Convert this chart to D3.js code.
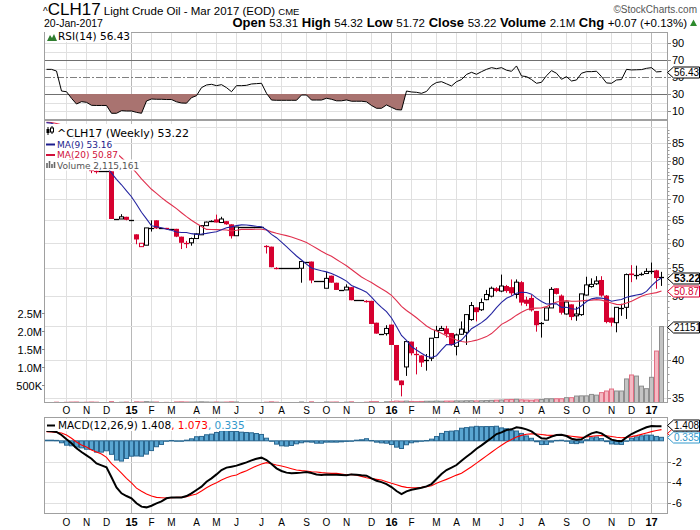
<!DOCTYPE html>
<html>
<head>
<meta charset="utf-8">
<script src="https://cdn.jsdelivr.net/npm/d3@7/dist/d3.min.js"></script>
<style>
  body { margin: 0; background: #fff; }
  svg { display: block; }
  text { font-family: "Liberation Sans", Arial, sans-serif; }
  .lg { font-family: "DejaVu Sans", Verdana, sans-serif; }
</style>
</head>
<body>
<svg width="700" height="530"></svg>
<script>
// weekly bars, Mon 8-Sep-2014 .. Mon 16-Jan-2017 (124 weeks)
// closes of the weeks before the window, only used to warm up the moving averages
var priorCloses = [91.0, 91.2, 91.5, 91.8, 92.0, 92.0, 91.8, 91.6, 91.5, 91.4,
                   91.3, 91.5, 91.6, 91.5, 91.5, 91.5, 91.5, 91.5, 91.5];

var opens = [90, 90, 86, 84, 83, 81.5, 79.5, 78.6, 78.8, 77.6,
  77.3, 77.1, 77.1, 77.1, 65.3, 65.3, 65.8, 65.1, 61.9, 59.3,
  59.6, 63.3, 65.0, 63.2, 63.3, 63.1, 63.1, 61.4, 60.2, 60.1,
  61.0, 61.8, 63.8, 64.6, 65.2, 64.5, 64.8, 64.1, 61.6, 63.5,
  63.5, 63.5, 63.5, 63.5, 59.6, 59.3, 55.2, 55.0, 55.0, 55.0,
  55.0, 55.0, 56.3, 56.3, 52.7, 52.7, 51.3, 53.6, 52.3, 51.0,
  51.0, 51.5, 49.2, 49.2, 49.2, 49.1, 45.5, 43.8, 43.8, 45.2,
  42.1, 37.2, 39.0, 42.6, 40.9, 40.6, 39.8, 40.2, 43.2, 44.3,
  44.6, 43.9, 41.9, 43.7, 44.0, 46.0, 48.0, 47.6, 49.3, 49.9,
  51.3, 50.8, 51.7, 51.5, 50.2, 52.4, 49.3, 49.6, 47.4, 45.3,
  45.9, 47.9, 51.3, 50.0, 46.9, 48.5, 46.6, 46.8, 50.1, 51.6,
  52.1, 52.8, 50.0, 46.3, 45.5, 47.9, 48.0, 54.0, 53.7, 53.8,
  54.0, 54.4, 54.6, 53.31];

var highs = [90, 90, 86, 84, 83, 81.5, 79.5, 79.3, 78.8, 77.6,
  77.3, 77.1, 77.1, 77.1, 65.3, 66.4, 65.8, 65.1, 61.9, 60.0,
  63.3, 65.0, 65.0, 63.2, 63.3, 63.1, 63.1, 61.4, 60.5, 61.2,
  62.1, 63.8, 64.7, 65.0, 66.3, 65.8, 64.8, 64.1, 63.5, 63.5,
  63.5, 63.5, 63.5, 63.5, 59.6, 59.3, 55.2, 55.0, 55.0, 55.0,
  55.0, 56.3, 56.3, 56.3, 52.7, 52.7, 54.3, 53.6, 52.3, 51.0,
  52.0, 51.5, 49.2, 49.2, 49.2, 49.1, 45.5, 43.8, 45.1, 45.2,
  42.1, 37.2, 42.6, 42.6, 41.8, 40.6, 40.8, 43.1, 45.0, 45.0,
  45.0, 43.9, 43.8, 45.7, 46.8, 48.9, 48.0, 49.5, 51.0, 51.6,
  51.5, 53.8, 51.9, 52.9, 52.9, 52.6, 49.8, 50.1, 47.4, 45.6,
  47.9, 51.5, 51.3, 50.2, 48.9, 48.5, 48.1, 50.3, 53.4, 53.1,
  53.5, 53.5, 50.1, 46.3, 48.0, 48.6, 54.0, 55.6, 55.5, 54.2,
  55.0, 56.1, 54.7, 54.32];

var lows = [90, 90, 83.5, 84, 81.8, 79.8, 78.2, 78.6, 78.0, 76.6,
  76.5, 77.1, 77.1, 65.3, 65.3, 65.3, 65.0, 65.1, 59.8, 59.3,
  59.6, 62.5, 63.1, 63.2, 63.0, 63.1, 61.3, 58.8, 59.0, 59.5,
  61.0, 61.8, 63.8, 64.6, 64.5, 64.5, 64.0, 61.0, 61.6, 63.5,
  63.5, 63.5, 63.5, 63.5, 57.9, 55.2, 54.8, 55.0, 55.0, 55.0,
  55.0, 52.3, 56.3, 52.2, 52.7, 52.7, 51.3, 52.3, 51.0, 51.0,
  51.0, 49.2, 49.2, 49.2, 48.8, 45.3, 43.8, 43.8, 43.5, 42.1,
  37.2, 35.2, 37.8, 40.6, 38.0, 39.0, 38.5, 39.8, 43.2, 44.2,
  43.2, 42.0, 40.6, 43.6, 42.1, 45.8, 45.7, 47.4, 49.2, 49.7,
  50.6, 50.6, 50.5, 50.0, 49.5, 48.3, 48.2, 47.3, 44.1, 43.2,
  45.9, 47.9, 50.2, 46.8, 46.8, 45.9, 45.8, 46.6, 50.0, 51.4,
  51.9, 49.8, 45.4, 44.9, 44.0, 46.6, 46.1, 52.4, 52.9, 53.6,
  53.9, 53.9, 51.2, 51.72];

var closes = [90, 90, 84, 84, 82, 80, 78.5, 79, 78.2, 77.2,
  77.1, 77.1, 77.1, 65.3, 65.3, 65.8, 65.1, 65.1, 60.8, 60.0,
  63.3, 63.4, 63.2, 63.2, 63.1, 63.1, 61.4, 60.1, 59.9, 61.0,
  62.0, 63.8, 64.6, 64.9, 64.5, 65.3, 64.1, 61.5, 63.5, 63.5,
  63.5, 63.5, 63.5, 63.5, 59.4, 55.2, 55.0, 55.0, 55.0, 55.0,
  55.0, 56.3, 56.3, 52.7, 52.7, 52.7, 53.1, 52.3, 51.0, 51.0,
  51.5, 49.2, 49.2, 49.2, 49.0, 45.3, 43.8, 43.8, 44.6, 42.1,
  37.2, 36.6, 42.6, 40.9, 40.7, 39.6, 40.0, 43.1, 44.3, 44.6,
  43.7, 42.1, 43.6, 44.5, 46.8, 48.3, 47.2, 48.8, 50.2, 51.3,
  50.8, 51.7, 50.8, 50.4, 52.4, 48.8, 48.6, 47.5, 45.1, 45.5,
  47.9, 51.1, 50.3, 47.1, 48.9, 46.4, 46.9, 50.3, 51.9, 52.0,
  52.6, 50.0, 45.6, 45.5, 48.0, 48.0, 53.8, 53.7, 53.8, 53.9,
  54.4, 54.5, 53.15, 53.22];

var volumes = [0, 0, 15000, 0, 12000, 18000, 20000, 10000, 14000, 20000,
  15000, 0, 0, 30000, 0, 12000, 18000, 0, 25000, 20000,
  30000, 20000, 20000, 0, 10000, 0, 22000, 25000, 20000, 18000,
  20000, 25000, 20000, 15000, 20000, 15000, 18000, 25000, 20000, 0,
  0, 0, 0, 0, 15000, 25000, 15000, 0, 0, 0,
  0, 20000, 0, 25000, 0, 0, 20000, 18000, 20000, 0,
  15000, 25000, 0, 0, 15000, 30000, 30000, 0, 25000, 30000,
  45000, 40000, 45000, 35000, 30000, 35000, 40000, 40000, 45000, 40000,
  45000, 45000, 50000, 50000, 55000, 55000, 50000, 55000, 60000, 65000,
  70000, 75000, 85000, 90000, 95000, 80000, 75000, 70000, 80000, 90000,
  110000, 110000, 110000, 110000, 140000, 140000, 185000, 190000, 190000, 230000,
  210000, 280000, 325000, 380000, 325000, 325000, 660000, 770000, 740000, 460000,
  390000, 705000, 1435000, 2115161];

var rsiValues = [59.0, 59.0, 57.0, 33.5, 32.7, 24.9, 18.2, 21.0, 20.2, 16.7,
  16.5, 16.5, 16.5, 7.3, 7.3, 10.4, 10.0, 10.0, 8.4, 7.3,
  21.8, 24.1, 23.8, 23.8, 23.5, 23.5, 20.8, 19.4, 19.2, 25.7,
  28.0, 37.5, 40.6, 41.4, 39.8, 41.0, 37.5, 32.7, 39.8, 39.8,
  40.2, 41.8, 42.2, 42.6, 30.8, 22.9, 22.6, 22.6, 22.6, 22.6,
  22.6, 28.8, 28.8, 22.9, 22.9, 22.9, 25.0, 23.8, 22.0, 22.0,
  23.0, 21.5, 21.5, 21.5, 20.8, 16.5, 13.2, 13.2, 17.1, 14.3,
  11.6, 11.2, 33.5, 32.4, 32.0, 30.8, 33.0, 40.0, 43.5, 44.5,
  42.0, 39.4, 44.5, 47.0, 53.0, 55.5, 53.2, 56.3, 59.0, 61.0,
  59.8, 61.0, 58.0, 56.7, 63.0, 51.2, 50.5, 47.0, 42.6, 43.8,
  51.5, 57.5, 54.4, 47.3, 50.4, 45.3, 46.5, 54.4, 56.3, 56.3,
  56.8, 50.5, 43.0, 42.6, 46.5, 47.0, 59.0, 58.3, 58.5, 58.7,
  60.2, 61.0, 56.0, 56.43];

var macdValues = [0.94, 0.91, 0.85, 0.56, 0.14, -0.24, -0.72, -1.08, -1.40, -1.72,
  -2.17, -2.36, -2.55, -3.50, -4.48, -5.05, -5.31, -5.53, -6.01, -6.33,
  -6.40, -6.24, -6.01, -5.82, -5.53, -5.44, -5.44, -5.44, -5.31, -5.05,
  -4.73, -4.41, -3.93, -3.61, -3.23, -2.81, -2.58, -2.49, -2.39, -2.23,
  -2.07, -1.88, -1.72, -1.62, -1.85, -2.23, -2.65, -2.90, -3.06, -3.13,
  -3.10, -3.06, -3.00, -3.10, -3.23, -3.29, -3.23, -3.26, -3.26, -3.29,
  -3.32, -3.23, -3.26, -3.32, -3.35, -3.61, -3.84, -3.97, -4.16, -4.45,
  -4.83, -5.12, -4.86, -4.70, -4.61, -4.51, -4.38, -4.16, -3.68, -3.19,
  -2.81, -2.58, -2.33, -1.91, -1.53, -1.17, -0.76, -0.44, -0.08, 0.27,
  0.65, 0.81, 1.04, 1.10, 1.30, 1.23, 1.10, 0.91, 0.56, 0.24,
  0.20, 0.40, 0.56, 0.59, 0.46, 0.20, 0.11, 0.14, 0.46, 0.72,
  0.85, 0.72, 0.40, 0.11, 0.01, -0.05, 0.33, 0.65, 0.88, 1.10,
  1.30, 1.42, 1.41, 1.408];

var signalValues = [0.88, 0.85, 0.81, 0.75, 0.56, 0.24, -0.11, -0.40, -0.59, -0.88,
  -1.08, -1.27, -1.59, -2.20, -2.63, -3.10, -3.61, -4.05, -4.55, -4.85,
  -5.12, -5.30, -5.44, -5.47, -5.50, -5.47, -5.44, -5.44, -5.37, -5.24,
  -5.12, -4.83, -4.51, -4.25, -4.03, -3.77, -3.55, -3.39, -3.29, -3.06,
  -2.87, -2.65, -2.42, -2.23, -2.10, -2.20, -2.33, -2.42, -2.55, -2.68,
  -2.81, -2.87, -2.90, -2.97, -3.00, -3.06, -3.10, -3.13, -3.13, -3.19,
  -3.26, -3.23, -3.32, -3.42, -3.55, -3.64, -3.71, -3.77, -3.93, -4.09,
  -4.22, -4.38, -4.48, -4.51, -4.51, -4.48, -4.41, -4.32, -4.09, -3.90,
  -3.71, -3.51, -3.30, -3.12, -2.80, -2.50, -2.15, -1.80, -1.45, -1.10,
  -0.75, -0.43, -0.12, 0.12, 0.36, 0.52, 0.63, 0.67, 0.65, 0.60,
  0.55, 0.52, 0.52, 0.53, 0.50, 0.44, 0.38, 0.33, 0.36, 0.43,
  0.48, 0.50, 0.48, 0.41, 0.34, 0.30, 0.33, 0.40, 0.50, 0.62,
  0.75, 0.88, 0.99, 1.073];

var monthLetters = ["J", "F", "M", "A", "M", "J", "J", "A", "S", "O", "N", "D"];
// 45 is hidden behind the volume tag in the reference, so it is not labelled
var priceTicks = [35, 40, 50, 55, 60, 65, 70, 75, 80, 85];
var volTicks = [500000, 1000000, 1500000, 2000000, 2500000];
var volTickLabels = ["500K", "1.0M", "1.5M", "2.0M", "2.5M"];
var rsiTicks = [10, 30, 50, 70, 90];
var macdTicks = [-6, -4, -2];

var red = "#d6002f";
var svg = d3.select("svg");
var left = 44, right = 668;
var rsiTop = 32, rsiBottom = 120, mainTop = 120, mainBottom = 403, macdTop = 417, macdBottom = 514;

var dates = d3.utcMonday.range(new Date(Date.UTC(2014, 8, 8)), new Date(Date.UTC(2017, 0, 17)));
var x = d3.scaleUtc().domain([dates[0], dates[dates.length - 1]]).range([46.5, 661.5]);
var y = d3.scaleLog().domain([35, 85]).range([398, 143.3]);
var yVol = d3.scaleLinear().domain([0, 2.5e6]).range([402.7, 312.7]);
var yRsi = d3.scaleLinear().domain([0, 100]).range([119.5, 34.5]);
var yMacd = d3.scaleLinear().domain([0, -6]).range([440.8, 503.2]);

function movingAverage(n) {
  var all = priorCloses.concat(closes);
  return closes.map(function(c, i) {
    var j = i + priorCloses.length;
    return d3.mean(all.slice(j - n + 1, j + 1));
  });
}
var ma9 = movingAverage(9), ma20 = movingAverage(20);

var bars = dates.map(function(d, i) {
  return {date: d, o: opens[i], h: highs[i], l: lows[i], c: closes[i],
    prev: i ? closes[i - 1] : priorCloses[priorCloses.length - 1],
    vol: volumes[i], rsi: rsiValues[i], macd: macdValues[i], sig: signalValues[i],
    ma9: ma9[i], ma20: ma20[i]};
});
function bx(d) { return Math.floor(x(d.date)) + 0.5; }
function col(d) { return d.c >= d.prev ? "#000" : red; }

var monthTicks = d3.utcMonth.range(new Date(Date.UTC(2014, 9, 1)), new Date(Date.UTC(2017, 1, 1)))
  .map(function(m) { return {date: d3.utcMonday.ceil(m), month: m.getUTCMonth(), year: m.getUTCFullYear()}; });

var defs = svg.append("defs");
function panel(id, top, bottom) {
  defs.append("clipPath").attr("id", id).append("rect")
    .attr("x", left).attr("y", top).attr("width", right - left).attr("height", bottom - top);
  var g = svg.append("g").attr("clip-path", "url(#" + id + ")");
  g.selectAll("line.v").data(monthTicks).enter().append("line")
    .attr("x1", bx).attr("x2", bx).attr("y1", top).attr("y2", bottom)
    .attr("stroke", function(d) { return d.month === 0 ? "#b8b8b8" : "#e0e0e0"; });
  return g;
}
function frame(top, bottom) {
  svg.append("rect").attr("x", left + 0.5).attr("y", top + 0.5)
    .attr("width", right - left - 1).attr("height", bottom - top - 1)
    .attr("fill", "none").attr("stroke", "#a0a0a0");
}
function hline(g, yy, color, dash) {
  var yp = Math.round(yy) + 0.5;
  g.append("line").attr("x1", left).attr("x2", right).attr("y1", yp).attr("y2", yp)
    .attr("stroke", color).attr("stroke-dasharray", dash || null);
}
var tagCount = 0;
function tag(yc, label, color, textColor, bold) {
  var id = "tagClip" + (tagCount++);
  defs.append("clipPath").attr("id", id).append("rect")
    .attr("x", 673).attr("y", yc - 5).attr("width", 26).attr("height", 10);
  var g = svg.append("g");
  g.append("path")
    .attr("d", "M667.5," + yc + "L673.5," + (yc - 5.5) + "L699.5," + (yc - 5.5) + "L699.5," + (yc + 5.5) + "L673.5," + (yc + 5.5) + "Z")
    .attr("fill", "#fff").attr("stroke", color);
  g.append("text").attr("clip-path", "url(#" + id + ")").attr("x", 674).attr("y", yc + 3.8)
    .attr("font-size", bold ? 10.5 : 10)
    .attr("font-weight", bold ? "bold" : null).attr("fill", textColor).text(label);
}

// ---------- header
var h1 = svg.append("text").attr("x", 43).attr("y", 15).attr("fill", "#000");
h1.append("tspan").attr("font-size", 10).text("^");
h1.append("tspan").attr("font-size", 17).attr("font-stretch", "condensed").text("CLH17");
h1.append("tspan").attr("font-size", 11.5).text(" Light Crude Oil - Mar 2017 (EOD) ");
h1.append("tspan").attr("font-size", 9.5).text("CME");
svg.append("text").attr("x", 697).attr("y", 13).attr("text-anchor", "end")
  .attr("font-size", 10).attr("fill", "#555").text("\u00a9StockCharts.com");
svg.append("text").attr("x", 44).attr("y", 27).attr("font-size", 10.5).text("20-Jan-2017");
var h2 = svg.append("text").attr("x", 687).attr("y", 27).attr("text-anchor", "end").attr("font-size", 11.5);
[["Open", "53.31"], ["High", "54.32"], ["Low", "51.72"], ["Close", "53.22"], ["Volume", "2.1M"], ["Chg", "+0.07 (+0.13%)"]]
  .forEach(function(p, k) {
    h2.append("tspan").attr("font-weight", "bold").attr("font-size", 13).text((k ? "  " : "") + p[0] + " ");
    h2.append("tspan").text(p[1]);
  });
svg.append("path").attr("d", "M690,26L693.5,19.5L697,26Z").attr("fill", "#2e8b2e");

// ---------- RSI panel
var gRsi = panel("clipRsi", rsiTop, rsiBottom);
[20, 40, 60, 80, 90, 10].forEach(function(v) { hline(gRsi, yRsi(v), "#e0e0e0"); });
hline(gRsi, yRsi(70), "#707070");
hline(gRsi, yRsi(30), "#707070");
hline(gRsi, yRsi(50), "#808080", "7,2,2,2");
defs.append("clipPath").attr("id", "rsiLow").append("rect")
  .attr("x", left).attr("y", yRsi(30)).attr("width", right - left).attr("height", rsiBottom - yRsi(30));
gRsi.append("path").datum(bars).attr("clip-path", "url(#rsiLow)").attr("fill", "#a97370")
  .attr("d", d3.area().x(function(d) { return x(d.date); }).y0(yRsi(30)).y1(function(d) { return yRsi(d.rsi); }));
gRsi.append("path").datum(bars).attr("fill", "none").attr("stroke", "#000").attr("stroke-width", 1)
  .attr("d", d3.line().x(function(d) { return x(d.date); }).y(function(d) { return yRsi(d.rsi); }));
frame(rsiTop, rsiBottom);
var rl = svg.append("g");
var rsiText = rl.append("text").attr("class", "lg").attr("x", 58).attr("y", 40).attr("font-size", 10.5).text("RSI(14) 56.43");
var rb = rsiText.node().getBBox();
rl.insert("rect", "text").attr("x", 45).attr("y", rb.y).attr("width", rb.x + rb.width - 45 + 1).attr("height", rb.height).attr("fill", "#fff");
rl.append("path").attr("d", "M47,41L50,35L52,38L54,34L57,41Z").attr("fill", "#2f7d2f");

// ---------- price panel
var gMain = panel("clipMain", mainTop, mainBottom);
d3.range(35, 95, 5).forEach(function(v) { hline(gMain, y(v), "#e0e0e0"); });

gMain.selectAll("rect.vol").data(bars.filter(function(d) { return d.vol > 0; })).enter().append("rect")
  .attr("x", function(d) { return bx(d) - 2; }).attr("width", 4)
  .attr("y", function(d) { return yVol(d.vol); })
  .attr("height", function(d) { return Math.max(0.5, yVol(0) - yVol(d.vol)); })
  .attr("fill", function(d) { return d.c >= d.prev ? "#c4c4c4" : "#f5b9c3"; })
  .attr("stroke", function(d) { return d.c >= d.prev ? "#8e8e8e" : "#e26f84"; });

var candles = gMain.selectAll("g.candle").data(bars).enter().append("g");
candles.filter(function(d) { return d.h > d.l; }).append("line")
  .attr("x1", bx).attr("x2", bx)
  .attr("y1", function(d) { return y(d.h); }).attr("y2", function(d) { return y(d.l); })
  .attr("stroke", col);
candles.each(function(d) {
  var g = d3.select(this), cx = bx(d);
  var top = y(Math.max(d.o, d.c)), bot = y(Math.min(d.o, d.c));
  if (bot - top < 1.5) {
    var yy = Math.round((top + bot) / 2) + 0.5;
    g.append("line").attr("x1", cx - 2.5).attr("x2", cx + 2.5).attr("y1", yy).attr("y2", yy)
      .attr("stroke", col(d)).attr("stroke-width", 1.3);
  } else if (d.c > d.o) {
    g.append("rect").attr("x", cx - 2).attr("width", 4).attr("y", top).attr("height", bot - top)
      .attr("fill", "#fff").attr("stroke", col(d));
  } else {
    g.append("rect").attr("x", cx - 2.5).attr("width", 5).attr("y", top).attr("height", bot - top)
      .attr("fill", col(d));
  }
});

gMain.append("path").datum(bars).attr("fill", "none").attr("stroke", "#e0304e").attr("stroke-width", 1.1)
  .attr("d", d3.line().x(function(d) { return x(d.date); }).y(function(d) { return y(d.ma20); }));
gMain.append("path").datum(bars).attr("fill", "none").attr("stroke", "#2424a0").attr("stroke-width", 1.1)
  .attr("d", d3.line().x(function(d) { return x(d.date); }).y(function(d) { return y(d.ma9); }));
frame(mainTop, mainBottom);

// legend of the price panel (white boxes hide what is behind)
var legendRows = [
  {text: "^CLH17 (Weekly) 53.22", size: 11, base: 136.5, fill: "#000"},
  {text: "MA(9) 53.16", size: 9, base: 147.5, fill: "#1c1c8c"},
  {text: "MA(20) 50.87", size: 9, base: 158, fill: "#d0103a"},
  {text: "Volume 2,115,161", size: 9, base: 168.5, fill: "#555"}
];
var tops = [124, 138.5, 149, 159.5, 170.5];
legendRows.forEach(function(r, k) {
  var g = svg.append("g");
  var t = g.append("text").attr("class", "lg").attr("x", 57).attr("y", r.base)
    .attr("font-size", r.size).attr("fill", r.fill).text(r.text);
  var b = t.node().getBBox();
  g.insert("rect", "text").attr("x", 45).attr("y", tops[k]).attr("width", b.x + b.width - 45 + 1)
    .attr("height", tops[k + 1] - tops[k]).attr("fill", "#fff");
});
svg.append("path").attr("d", "M48,127V135M52,126V134").attr("stroke", "#000");
svg.append("rect").attr("x", 46.5).attr("y", 129).attr("width", 3).attr("height", 4).attr("fill", "#000");
svg.append("rect").attr("x", 50.5).attr("y", 128).attr("width", 3).attr("height", 4).attr("fill", "#fff").attr("stroke", "#000");
svg.append("line").attr("x1", 46).attr("x2", 55).attr("y1", 144.5).attr("y2", 144.5).attr("stroke", "#1c1c8c").attr("stroke-width", 2);
svg.append("line").attr("x1", 46).attr("x2", 55).attr("y1", 155).attr("y2", 155).attr("stroke", "#d0103a").attr("stroke-width", 2);
svg.append("path").attr("d", "M47,168V163M49.5,168V161M52,168V164M54.5,168V162").attr("stroke", "#666").attr("stroke-width", 1.6);

// ---------- MACD panel
var gMacd = panel("clipMacd", macdTop, macdBottom);
[2, -2, -4, -6].forEach(function(v) { hline(gMacd, yMacd(v), "#e0e0e0"); });
gMacd.selectAll("rect.h").data(bars).enter().append("rect")
  .attr("x", function(d) { return bx(d) - 2; }).attr("width", 4)
  .attr("y", function(d) { return Math.min(yMacd(d.macd - d.sig), yMacd(0)); })
  .attr("height", function(d) { return Math.max(0.5, Math.abs(yMacd(d.macd - d.sig) - yMacd(0))); })
  .attr("fill", "#5aa6d2").attr("stroke", "#2a6790");
gMacd.append("path").datum(bars).attr("fill", "none").attr("stroke", "#ff0000").attr("stroke-width", 1.1)
  .attr("d", d3.line().x(function(d) { return x(d.date); }).y(function(d) { return yMacd(d.sig); }));
gMacd.append("path").datum(bars).attr("fill", "none").attr("stroke", "#000").attr("stroke-width", 2)
  .attr("d", d3.line().x(function(d) { return x(d.date); }).y(function(d) { return yMacd(d.macd); }));
frame(macdTop, macdBottom);
var ml = svg.append("g");
var mt = ml.append("text").attr("class", "lg").attr("x", 58).attr("y", 429).attr("font-size", 10.5);
mt.append("tspan").attr("fill", "#000").text("MACD(12,26,9) 1.408");
mt.append("tspan").attr("fill", "#ff0000").text(", 1.073");
mt.append("tspan").attr("fill", "#3399cc").text(", 0.335");
var mb = mt.node().getBBox();
ml.insert("rect", "text").attr("x", 45).attr("y", mb.y).attr("width", mb.x + mb.width - 45 + 1).attr("height", mb.height).attr("fill", "#fff");
ml.append("line").attr("x1", 47).attr("x2", 55).attr("y1", 425.5).attr("y2", 425.5).attr("stroke", "#000").attr("stroke-width", 2);

// ---------- axes
function monthLabels(yy) {
  svg.selectAll(null).data(monthTicks.filter(function(d) { return bx(d) > left + 3; })).enter().append("text")
    .attr("x", bx).attr("y", yy).attr("text-anchor", "middle")
    .attr("font-size", function(d) { return d.month === 0 ? 11 : 10; })
    .attr("font-weight", function(d) { return d.month === 0 ? "bold" : null; })
    .text(function(d) { return d.month === 0 ? String(d.year % 100) : monthLetters[d.month]; });
}
monthLabels(414);
monthLabels(526);

function rightAxis(ticks, scale, labels) {
  ticks.forEach(function(v, k) {
    var yy = Math.round(scale(v)) + 0.5;
    svg.append("line").attr("x1", right).attr("x2", right + 3).attr("y1", yy).attr("y2", yy).attr("stroke", "#888");
    svg.append("text").attr("x", 672).attr("y", yy + 3.5).attr("font-size", 11).text(labels ? labels[k] : v);
  });
}
rightAxis(rsiTicks, yRsi);
rightAxis(priceTicks, y);
rightAxis(macdTicks, yMacd);
d3.range(35, 90).forEach(function(v) {
  var yy = Math.round(y(v)) + 0.5;
  svg.append("line").attr("x1", right).attr("x2", right + 1.5).attr("y1", yy).attr("y2", yy).attr("stroke", "#999");
});
volTicks.forEach(function(v, k) {
  var yy = Math.round(yVol(v)) + 0.5;
  svg.append("line").attr("x1", left - 2).attr("x2", left + 1).attr("y1", yy).attr("y2", yy).attr("stroke", "#888");
  svg.append("text").attr("x", 42).attr("y", yy + 4).attr("text-anchor", "end").attr("font-size", 11).text(volTickLabels[k]);
});

// ---------- value tags
tag(Math.round(yRsi(56.43)) + 0.5, "56.43", "#000", "#000", false);
tag(Math.round(yVol(2115161)) + 0.5, "2115161", "#000", "#000", false);
tag(Math.round(y(50.87)) + 0.5, "50.87", red, red, false);
tag(Math.round(y(53.22)) + 0.5, "53.22", "#000", "#000", true);
tag(Math.round(yMacd(1.073)) + 3.5, "1.073", "#ff0000", "#ff0000", false);
tag(Math.round(yMacd(0.335)) + 0.5, "0.335", "#3399cc", "#3399cc", false);
tag(Math.round(yMacd(1.408)) - 0.5, "1.408", "#000", "#000", false);
</script>
</body>
</html>
